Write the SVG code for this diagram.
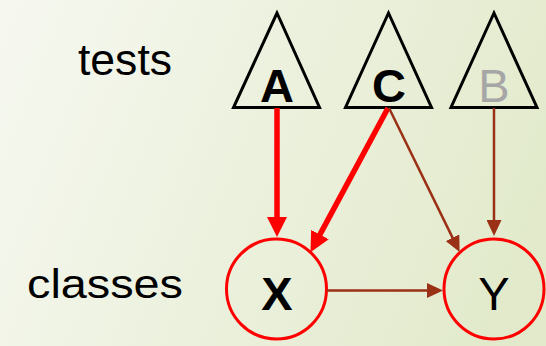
<svg xmlns="http://www.w3.org/2000/svg" width="546" height="346" viewBox="0 0 546 346">
  <defs>
    <linearGradient id="bg" x1="0" y1="0" x2="546" y2="220" gradientUnits="userSpaceOnUse">
      <stop offset="0" stop-color="#f6f8f0"/>
      <stop offset="1" stop-color="#e2eacb"/>
    </linearGradient>
    <marker id="headThick" viewBox="0 -10 20 20" markerWidth="20" markerHeight="20" refX="1" refY="0" orient="auto" markerUnits="userSpaceOnUse">
      <path d="M0,-10 L20,0 L0,10 Z" fill="#ff0000"/>
    </marker>
    <marker id="headThin" viewBox="0 -7.5 16 15" markerWidth="16" markerHeight="15" refX="1" refY="0" orient="auto" markerUnits="userSpaceOnUse">
      <path d="M0,-7.5 L16,0 L0,7.5 Z" fill="#9a3015"/>
    </marker>
    <style>
      .label { font-family: "Liberation Sans", Arial, sans-serif; fill: #000; }
      .tri { fill: none; stroke: #000; stroke-width: 3; stroke-linejoin: miter; }
      .cls { fill: none; stroke: #ff0000; stroke-width: 3; }
      .name { font-family: "Liberation Sans", Arial, sans-serif; font-size: 47px; text-anchor: middle; }
      .bold { font-weight: bold; fill: #000; }
      .thick { stroke: #ff0000; stroke-width: 5.5; fill: none; marker-end: url(#headThick); }
      .thin { stroke: #9a3015; stroke-width: 2.5; fill: none; marker-end: url(#headThin); }
    </style>
  </defs>

  <rect x="0" y="0" width="546" height="346" fill="url(#bg)"/>

  <!-- row captions -->
  <text class="label" x="78" y="75" font-size="44" textLength="94" lengthAdjust="spacingAndGlyphs">tests</text>
  <text class="label" x="27" y="298" font-size="40" textLength="156" lengthAdjust="spacingAndGlyphs">classes</text>

  <!-- tests -->
  <g id="test-A">
    <polygon class="tri" points="277,13 233.5,107.5 319.5,107.5"/>
    <text class="name bold" x="277" y="102">A</text>
  </g>
  <g id="test-C">
    <polygon class="tri" points="388.5,13 345.5,107.5 431.5,107.5"/>
    <text class="name bold" x="389" y="102">C</text>
  </g>
  <g id="test-B">
    <polygon class="tri" points="494,13 451,107.5 537,107.5"/>
    <text class="name" x="494" y="102" fill="#a6a6a6">B</text>
  </g>

  <!-- classes -->
  <g id="class-X">
    <circle class="cls" cx="276.5" cy="289" r="50"/>
    <text class="name bold" x="277" y="310">X</text>
  </g>
  <g id="class-Y">
    <circle class="cls" cx="494" cy="289" r="50"/>
    <text class="name" x="494" y="310" fill="#000">Y</text>
  </g>

  <!-- dependencies -->
  <g id="connectors">
    <line class="thick" x1="277" y1="108" x2="277" y2="218"/>
    <line class="thick" x1="388" y1="108" x2="319.5" y2="235.4"/>
    <line class="thin" x1="389" y1="108" x2="453" y2="238.6"/>
    <line class="thin" x1="494" y1="108" x2="494" y2="221"/>
    <line class="thin" x1="327" y1="290.5" x2="428" y2="290.5"/>
  </g>
</svg>
